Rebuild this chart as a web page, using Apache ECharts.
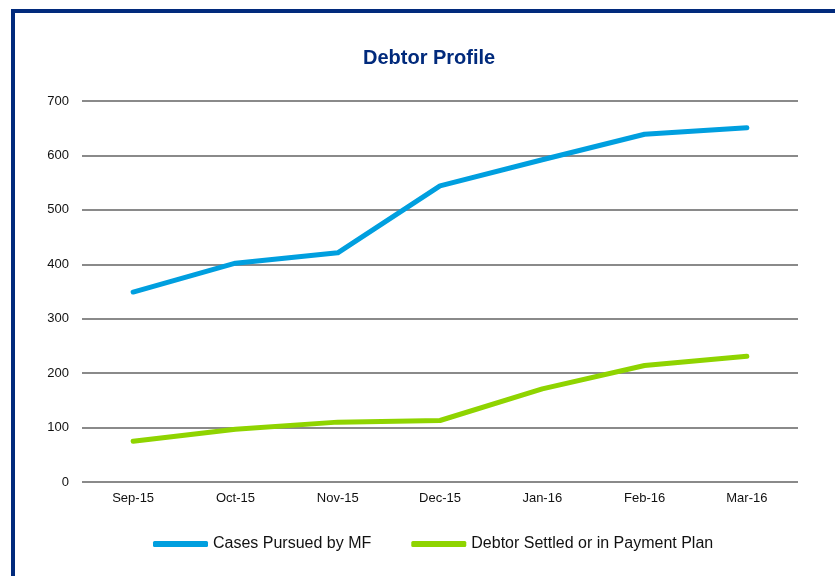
<!DOCTYPE html>
<html>
<head>
<meta charset="utf-8">
<script src="https://cdn.jsdelivr.net/npm/echarts@6/dist/echarts.min.js"></script>
<style>
  html, body { margin: 0; padding: 0; background: #fff; }
  #chart { width: 835px; height: 576px; }
  .frame {
    position: absolute; left: 11px; top: 9px; width: 840px; height: 600px;
    border: 4px solid #012a7c; box-sizing: border-box;
  }
</style>
</head>
<body>
<div class="frame"></div>
<div id="chart" style="position:absolute;left:0;top:0"></div>
<script>
const months = ['Sep-15', 'Oct-15', 'Nov-15', 'Dec-15', 'Jan-16', 'Feb-16', 'Mar-16']
const casesPursued = [349, 402, 421, 544, 592, 639, 651]
const debtorSettled = [75, 97, 110, 113, 171, 214, 231]
const seriesNames = ['Cases Pursued by MF', 'Debtor Settled or in Payment Plan']

const chart = echarts.init(document.getElementById('chart'))
const option = {
  animation: false,
  title: {
    text: 'Debtor Profile',
    left: 358,
    top: 43,
    textStyle: { fontFamily: 'Liberation Sans', fontSize: 20, fontWeight: 'bold', color: '#012a7c' }
  },
  legend: {
    top: 531,
    left: 148,
    itemWidth: 55,
    itemHeight: 6,
    itemGap: 40,
    icon: 'roundRect',
    textStyle: { fontFamily: 'Liberation Sans', fontSize: 16, color: '#111' },
    data: seriesNames
  },
  grid: { left: 82, right: 37, top: 101, bottom: 94 },
  xAxis: {
    type: 'category',
    data: months,
    boundaryGap: true,
    axisLine: { show: false },
    axisTick: { show: false },
    axisLabel: { margin: 10, fontFamily: 'Liberation Sans', fontSize: 13, color: '#111' }
  },
  yAxis: {
    type: 'value',
    min: 0,
    max: 700,
    interval: 100,
    axisLabel: { margin: 13, fontFamily: 'Liberation Sans', fontSize: 13, color: '#111' },
    splitLine: { lineStyle: { color: '#8a8a8a', width: 2 } }
  },
  series: [
    {
      name: seriesNames[0], type: 'line', data: casesPursued,
      symbol: 'none', color: '#009fdf',
      lineStyle: { width: 5, cap: 'round', join: 'round' }
    },
    {
      name: seriesNames[1], type: 'line', data: debtorSettled,
      symbol: 'none', color: '#8fd400',
      lineStyle: { width: 5, cap: 'round', join: 'round' }
    }
  ]
}
chart.setOption(option)
</script>
</body>
</html>
